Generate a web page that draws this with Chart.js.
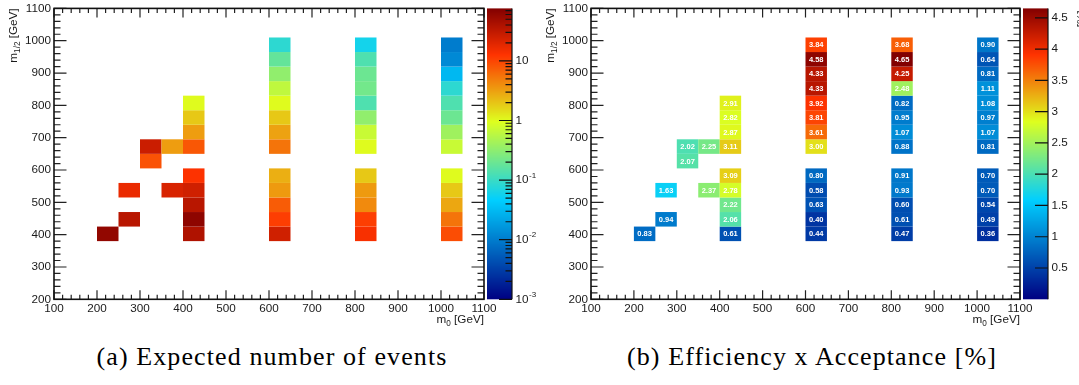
<!DOCTYPE html>
<html>
<head>
<meta charset="utf-8">
<script src="https://cdn.jsdelivr.net/npm/chart.js@4.4.1/dist/chart.umd.min.js"></script>
<style>
  html, body { margin: 0; padding: 0; background: #fff; }
  #page { position: relative; width: 1079px; height: 385px; overflow: hidden; background: #fff; }
  .panel { position: absolute; top: 0; height: 335px; }
  #panelA { left: 0; width: 540px; }
  #panelB { left: 540px; width: 539px; }
  .caption {
    position: absolute; top: 344px;
    font-family: "Liberation Serif", "DejaVu Serif", serif;
    font-size: 26px; line-height: 26px; letter-spacing: 1.1px;
    white-space: nowrap; color: #000; transform: translateX(-50%);
  }
</style>
</head>
<body>
<div id="page">
  <div class="panel" id="panelA"><canvas id="chartA" width="540" height="335"></canvas></div>
  <div class="panel" id="panelB"><canvas id="chartB" width="539" height="335"></canvas></div>
  <div class="caption" style="left:272px">(a) Expected number of events</div>
  <div class="caption" style="left:812px">(b) Efficiency x Acceptance [%]</div>
</div>
<script>
// ---------------- grid values ----------------
const m0Ticks  = [100, 200, 300, 400, 500, 600, 700, 800, 900, 1000, 1100];
const m12Ticks = [200, 300, 400, 500, 600, 700, 800, 900, 1000, 1100];
const effTicks = [0.5, 1, 1.5, 2, 2.5, 3, 3.5, 4, 4.5];
const eventDecades = [-3, -2, -1, 0, 1];

const M0_BIN_WIDTH = 50;   // GeV
const M12_BIN_WIDTH = 45;  // GeV

// lower bin edges of every filled (m0, m1/2) cell
const cellM0 = [
  200,
  250, 250,
  300, 300,
  350, 350,
  400, 400, 400, 400, 400, 400, 400, 400, 400,
  600, 600, 600, 600, 600, 600, 600, 600, 600, 600, 600, 600, 600,
  800, 800, 800, 800, 800, 800, 800, 800, 800, 800, 800, 800, 800,
  1000, 1000, 1000, 1000, 1000, 1000, 1000, 1000, 1000, 1000, 1000, 1000, 1000
];
const cellM12 = [
  380,
  425, 515,
  605, 650,
  515, 650,
  380, 425, 470, 515, 560, 650, 695, 740, 785,
  380, 425, 470, 515, 560, 650, 695, 740, 785, 830, 875, 920, 965,
  380, 425, 470, 515, 560, 650, 695, 740, 785, 830, 875, 920, 965,
  380, 425, 470, 515, 560, 650, 695, 740, 785, 830, 875, 920, 965
];
const expectedEvents = [
  60,
  35, 17,
  8.5, 27,
  22, 3.3,
  40, 64, 35, 25, 13, 8, 3.3, 1.9, 1.0,
  25, 11, 7.5, 3.4, 2.6, 5.5, 3.1, 1.9, 1.0, 0.62, 0.33, 0.18, 0.085,
  14, 11, 4.2, 3.4, 1.9, 1.0, 0.7, 0.33, 0.135, 0.22, 0.2, 0.135, 0.06,
  9, 5.5, 2.9, 1.9, 1.0, 0.7, 0.4, 0.2, 0.135, 0.085, 0.03, 0.0125, 0.01
];
const efficiencyPct = [
  0.83,
  0.94, 1.63,
  2.07, 2.02,
  2.37, 2.25,
  0.61, 2.06, 2.22, 2.78, 3.09, 3.11, 2.87, 2.82, 2.91,
  0.44, 0.40, 0.63, 0.58, 0.80, 3.00, 3.61, 3.81, 3.92, 4.33, 4.33, 4.58, 3.84,
  0.47, 0.61, 0.60, 0.93, 0.91, 0.88, 1.07, 0.95, 0.82, 2.48, 4.25, 4.65, 3.68,
  0.36, 0.49, 0.54, 0.70, 0.70, 0.81, 1.07, 0.97, 1.08, 1.11, 0.81, 0.64, 0.90
];

const EVENTS_MIN = 1e-3, EVENTS_MAX = 76;
const EFF_MIN = 0, EFF_MAX = 4.65;

// ---------------- colour palette (5-stop rainbow) ----------------
const paletteStops = [0.00, 0.34, 0.61, 0.84, 1.00];
const paletteR     = [0.00, 0.00, 0.87, 1.00, 0.51];
const paletteG     = [0.00, 0.81, 1.00, 0.20, 0.00];
const paletteB     = [0.51, 1.00, 0.12, 0.00, 0.00];

function paletteColour(f) {
  f = Math.min(1, Math.max(0, f));
  let i = 0;
  while (i < paletteStops.length - 2 && f > paletteStops[i + 1]) i++;
  const t = (f - paletteStops[i]) / (paletteStops[i + 1] - paletteStops[i]);
  const c = a => Math.round(255 * (a[i] + t * (a[i + 1] - a[i])));
  return `rgb(${c(paletteR)},${c(paletteG)},${c(paletteB)})`;
}

// ---------------- layout constants ----------------
const CANVAS_H = 335;
const FRAME_TOP = 8.4;
const FRAME_BOTTOM = 299.3;
const BAR_GAP = 3, BAR_WIDTH = 25;
const FONT = '"Liberation Sans", Arial, sans-serif';
const LABEL_SIZE = 11.7;
const TEXT_COLOUR = '#1a1a1a';
const MINOR_STEP = 20;

Chart.defaults.font.family = FONT;

const zFraction = (z, v) => (z.bottom - z.getPixelForValue(v)) / (z.bottom - z.top);

// keep axis label overhang from moving the plot frame
function noOverhang(s) {
  s.paddingTop = 0; s.paddingBottom = 0; s.paddingLeft = 0; s.paddingRight = 0;
}

// filled cells of the histogram, placed through the x/y scales, coloured through z
function heatCellsPlugin(values, printValues) {
  return {
    id: 'heatCells',
    beforeDatasetsDraw(chart) {
      const { ctx, scales: { x, y, z } } = chart;
      ctx.save();
      values.forEach((v, i) => {
        const xl = x.getPixelForValue(cellM0[i]);
        const xr = x.getPixelForValue(cellM0[i] + M0_BIN_WIDTH);
        const yt = y.getPixelForValue(cellM12[i] + M12_BIN_WIDTH);
        const yb = y.getPixelForValue(cellM12[i]);
        ctx.fillStyle = paletteColour(zFraction(z, v));
        ctx.fillRect(xl, yt, xr - xl, yb - yt);
        if (printValues) {
          ctx.fillStyle = '#fff';
          ctx.font = `bold 7.5px ${FONT}`;
          ctx.textAlign = 'center';
          ctx.textBaseline = 'middle';
          ctx.fillText(v.toFixed(2), (xl + xr) / 2, (yt + yb) / 2 + 0.5);
        }
      });
      ctx.restore();
    }
  };
}

// box frame with inward major/minor ticks on all four sides
function frameTicksPlugin() {
  return {
    id: 'frameTicks',
    afterDraw(chart) {
      const { ctx, chartArea: a, scales: { x, y } } = chart;
      ctx.save();
      ctx.strokeStyle = '#222';
      ctx.lineWidth = 1.2;
      ctx.beginPath();
      for (let v = x.min; v <= x.max + 1e-6; v += MINOR_STEP) {
        const p = x.getPixelForValue(v);
        const len = (v % 100 === 0) ? 9 : 4.5;
        ctx.moveTo(p, a.bottom); ctx.lineTo(p, a.bottom - len);
        ctx.moveTo(p, a.top); ctx.lineTo(p, a.top + len);
      }
      for (let v = y.min; v <= y.max + 1e-6; v += MINOR_STEP) {
        const p = y.getPixelForValue(v);
        const len = (v % 100 === 0) ? 12.5 : 6.5;
        ctx.moveTo(a.left, p); ctx.lineTo(a.left + len, p);
        ctx.moveTo(a.right, p); ctx.lineTo(a.right - len, p);
      }
      ctx.stroke();
      ctx.lineWidth = 1.6;
      ctx.strokeStyle = '#111';
      ctx.strokeRect(a.left, a.top, a.width, a.height);
      ctx.restore();
    }
  };
}

// text with a subscript part, e.g. m_{1/2}
function drawParts(ctx, parts, x, y, alignRight) {
  const main = `${LABEL_SIZE}px ${FONT}`, sub = `8.2px ${FONT}`;
  let w = 0;
  parts.forEach(p => { ctx.font = p.sub ? sub : main; w += ctx.measureText(p.t).width; });
  let cx = alignRight ? x - w : x;
  ctx.textAlign = 'left';
  ctx.textBaseline = 'alphabetic';
  parts.forEach(p => {
    ctx.font = p.sub ? sub : main;
    ctx.fillText(p.t, cx, y + (p.sub ? 3 : 0));
    cx += ctx.measureText(p.t).width;
  });
}

function axisTitlesPlugin(zTitle) {
  return {
    id: 'axisTitles',
    afterDraw(chart) {
      const { ctx, chartArea: a } = chart;
      ctx.save();
      ctx.fillStyle = TEXT_COLOUR;
      drawParts(ctx, [{ t: 'm' }, { t: '0', sub: true }, { t: ' [GeV]' }], a.right, 323, true);
      ctx.save();
      ctx.translate(a.left - 37.5, a.top);
      ctx.rotate(-Math.PI / 2);
      drawParts(ctx, [{ t: 'm' }, { t: '1/2', sub: true }, { t: ' [GeV]' }], 0, 0, true);
      ctx.restore();
      if (zTitle) {
        ctx.translate(chart.width + 6, a.top + 2);
        ctx.rotate(-Math.PI / 2);
        drawParts(ctx, [{ t: zTitle }], 0, 0, true);
      }
      ctx.restore();
    }
  };
}

// colour scale strip drawn against the z axis, with its ticks and labels
function colourBarPlugin(logScale) {
  return {
    id: 'colourBar',
    afterDraw(chart) {
      const { ctx, scales: { z } } = chart;
      const x0 = z.left + BAR_GAP, x1 = x0 + BAR_WIDTH;
      ctx.save();
      for (let py = Math.floor(z.top); py < Math.ceil(z.bottom); py++) {
        const top = Math.max(py, z.top), bot = Math.min(py + 1, z.bottom);
        const v = z.getValueForPixel((top + bot) / 2);
        ctx.fillStyle = paletteColour(zFraction(z, v));
        ctx.fillRect(x0, top, BAR_WIDTH, bot - top);
      }
      ctx.strokeStyle = '#111';
      ctx.lineWidth = 1.2;
      ctx.beginPath();
      ctx.moveTo(x1, z.top); ctx.lineTo(x1, z.bottom);
      if (logScale) {
        eventDecades.forEach(d => {
          for (let k = 1; k <= 9; k++) {
            const v = k * Math.pow(10, d);
            if (v > EVENTS_MAX) break;
            const p = z.getPixelForValue(v);
            const len = k === 1 ? 13 : 6.5;
            ctx.moveTo(x1, p); ctx.lineTo(x1 - len, p);
          }
        });
      } else {
        z.ticks.forEach(t => {
          const p = z.getPixelForValue(t.value);
          ctx.moveTo(x1, p); ctx.lineTo(x1 - 13, p);
        });
      }
      ctx.stroke();

      ctx.fillStyle = TEXT_COLOUR;
      ctx.textBaseline = 'middle';
      ctx.textAlign = 'left';
      const lx = x1 + 3.5;
      if (logScale) {
        eventDecades.forEach(d => {
          const p = z.getPixelForValue(Math.pow(10, d));
          ctx.font = `${LABEL_SIZE}px ${FONT}`;
          if (d === 0) { ctx.fillText('1', lx, p); return; }
          ctx.fillText('10', lx, p);
          if (d !== 1) {
            const w = ctx.measureText('10').width;
            ctx.font = `8px ${FONT}`;
            ctx.fillText(String(d), lx + w + 0.5, p - 4.5);
          }
        });
      } else {
        ctx.font = `${LABEL_SIZE}px ${FONT}`;
        z.ticks.forEach(t => ctx.fillText(String(t.value), lx, z.getPixelForValue(t.value)));
      }
      ctx.restore();
    }
  };
}

function makePanel(canvasId, opts) {
  const canvas = document.getElementById(canvasId);
  const zFit = canvas.width - opts.frameRight;
  const tickFont = { family: FONT, size: LABEL_SIZE };
  const zScale = {
    type: opts.logScale ? 'logarithmic' : 'linear', axis: 'y', position: 'right',
    min: opts.logScale ? EVENTS_MIN : EFF_MIN,
    max: opts.logScale ? EVENTS_MAX : EFF_MAX,
    grid: { display: false, drawTicks: false }, border: { display: false },
    ticks: { display: false },
    afterBuildTicks: s => {
      s.ticks = opts.logScale ? eventDecades.map(d => ({ value: Math.pow(10, d) }))
                              : effTicks.map(v => ({ value: v }));
    },
    afterFit: s => { s.width = zFit; noOverhang(s); }
  };
  return new Chart(canvas, {
    type: 'scatter',
    data: {
      datasets: [{
        data: cellM0.map((m0, i) => ({ x: m0 + M0_BIN_WIDTH / 2, y: cellM12[i] + M12_BIN_WIDTH / 2 })),
        pointRadius: 0, pointHoverRadius: 0
      }]
    },
    options: {
      responsive: false,
      animation: false,
      events: [],
      layout: { padding: { top: FRAME_TOP, left: 0, right: 0, bottom: 0 } },
      plugins: { legend: { display: false }, tooltip: { enabled: false } },
      scales: {
        x: {
          type: 'linear', position: 'bottom', min: 100, max: 1100,
          grid: { display: false, drawTicks: false }, border: { display: false },
          ticks: { font: tickFont, color: TEXT_COLOUR, padding: 2, maxRotation: 0, autoSkip: false,
                   callback: v => String(v) },
          afterBuildTicks: s => { s.ticks = m0Ticks.map(v => ({ value: v })); },
          afterFit: s => { s.height = CANVAS_H - FRAME_BOTTOM; noOverhang(s); }
        },
        y: {
          type: 'linear', position: 'left', min: 200, max: 1100,
          grid: { display: false, drawTicks: false }, border: { display: false },
          ticks: { font: tickFont, color: TEXT_COLOUR, padding: 3, autoSkip: false,
                   callback: v => String(v) },
          afterBuildTicks: s => { s.ticks = m12Ticks.map(v => ({ value: v })); },
          afterFit: s => { s.width = opts.frameLeft; noOverhang(s); }
        },
        z: zScale
      }
    },
    plugins: [
      heatCellsPlugin(opts.values, opts.printValues),
      frameTicksPlugin(),
      colourBarPlugin(opts.logScale),
      axisTitlesPlugin(opts.zTitle)
    ]
  });
}

makePanel('chartA', { values: expectedEvents, printValues: false, logScale: true,
                      frameLeft: 54, frameRight: 484, zTitle: null });
makePanel('chartB', { values: efficiencyPct, printValues: true, logScale: false,
                      frameLeft: 51, frameRight: 480, zTitle: '[%]' });
</script>
</body>
</html>
